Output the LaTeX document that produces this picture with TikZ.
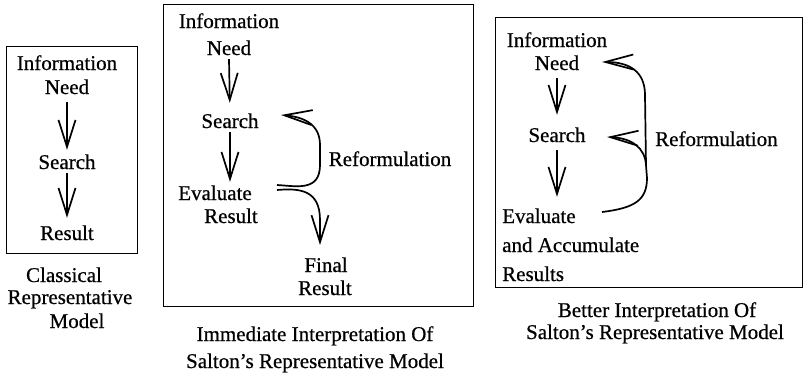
\documentclass[tikz,border=0pt]{standalone}
\usepackage{fontspec}
\setmainfont{Liberation Serif}[FakeBold=0.6]
\usetikzlibrary{arrows.meta}
\begin{document}
\begin{tikzpicture}[x=1pt,y=-1pt,
  txt/.style={font=\fontsize{21}{24}\selectfont, inner sep=0pt, anchor=base, text height=14pt, text depth=4pt},
  txtl/.style={txt, anchor=base west},
  frame/.style={draw, line width=1.3pt},
  arr/.style={line width=1.7pt, -{Straight Barb[length=27pt,width=17pt]}},
  curvearr/.style={line width=1.7pt, -{Straight Barb[length=28pt,width=15pt]}}]
\useasboundingbox (0,0) rectangle (804,373);

% ---------- Box 1 ----------
\node[frame, minimum width=131pt, minimum height=207pt, anchor=north west, inner sep=0pt] (box1) at (6,46) {};
\node[txt] (info1) at (67,70) {Information};
\node[txt] (need1) at (67,94) {Need};
\node[txt] (search1) at (67,169) {Search};
\node[txt] (result1) at (67,240) {Result};
\draw[arr, shorten <=4pt, shorten >=5pt] (need1.south) -- (search1.north);
\draw[arr, shorten >=8pt] (search1.south) -- (result1.north);
\node[txt] (cap1a) at (64,282) {Classical};
\node[txt] (cap1b) at (70,304) {Representative};
\node[txt] (cap1c) at (77,328) {Model};

% ---------- Box 2 ----------
\node[frame, minimum width=310pt, minimum height=302pt, anchor=north west, inner sep=0pt] (box2) at (163,4) {};
\node[txt] (info2) at (229,28) {Information};
\node[txt] (need2) at (229,55) {Need};
\node[txt] (search2) at (230,128) {Search};
\node[txt] (eval2) at (215,200) {Evaluate};
\node[txt] (evalr2) at (231,223) {Result};
\node[txt] (final2) at (326,272) {Final};
\node[txt] (finalr2) at (325,295) {Result};
\node[txt] (reform2) at (390,166) {Reformulation};
\draw[arr, shorten >=11pt] (need2.south) -- (search2.north);
\coordinate (a2end) at (search2.south |- eval2.north);
\draw[arr, shorten >=4pt] (search2.south) -- (a2end);
\coordinate (e2a) at (277,185);
\coordinate (e2b) at (277,190);
\coordinate (s2tip) at (281,115);
\coordinate (f2tip) at (320,245);
\draw[curvearr] (e2a) .. controls (296,186) and (320,192) .. (320,165) -- (320,145) .. controls (320,125) and (305,117) .. (s2tip);
\draw[arr] (e2b) .. controls (300,188) and (320,190) .. (320,220) -- (f2tip);
\node[txt] (cap2a) at (315,341) {Immediate Interpretation Of};
\node[txt] (cap2b) at (315,368) {Salton's Representative Model};

% ---------- Box 3 ----------
\node[frame, minimum width=307pt, minimum height=270pt, anchor=north west, inner sep=0pt] (box3) at (495,17) {};
\node[txt] (info3) at (557,47) {Information};
\node[txt] (need3) at (557,70) {Need};
\node[txt] (search3) at (557,142) {Search};
\node[txtl] (eval3) at (502,223) {Evaluate};
\node[txtl] (acc3) at (502,252) {and Accumulate};
\node[txtl] (res3) at (502,281) {Results};
\node[txtl] (reform3) at (655,146) {Reformulation};
\draw[arr, shorten <=4pt, shorten >=13pt] (need3.south) -- (search3.north);
\coordinate (a3end) at (search3.south |- eval3.north);
\draw[arr, shorten <=4pt, shorten >=12pt] (search3.south) -- (a3end);
\coordinate (e3) at (602,212);
\coordinate (n3tip) at (602,62);
\coordinate (s3tip) at (607,137);
\coordinate (j3) at (646,165);
\draw[curvearr] (e3) .. controls (635,208) and (647,200) .. (647,178) -- (j3) -- (645,95) .. controls (645,72) and (630,62) .. (n3tip);
\draw[curvearr] (j3) .. controls (645,148) and (632,138) .. (s3tip);
\node[txt] (cap3a) at (657,317) {Better Interpretation Of};
\node[txt] (cap3b) at (655,339) {Salton's Representative Model};
\end{tikzpicture}
\end{document}
